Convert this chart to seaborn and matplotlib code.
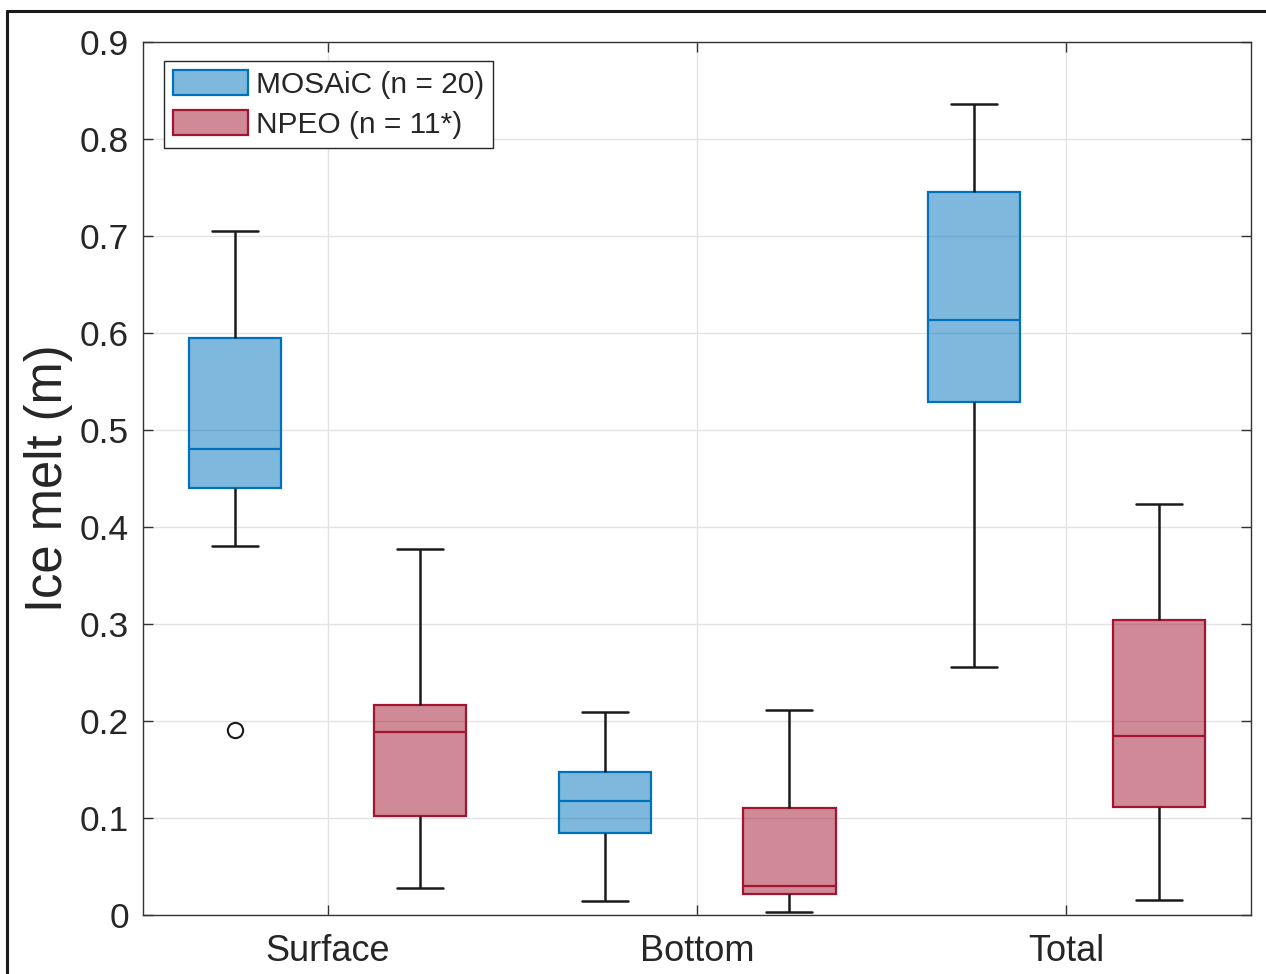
import numpy as np
import pandas as pd
import matplotlib
matplotlib.use('Agg')
import matplotlib.pyplot as plt
from matplotlib.patches import Patch
from matplotlib.lines import Line2D
from matplotlib.ticker import FuncFormatter
import seaborn as sns

sns.set_theme(style='ticks')
plt.rcParams['font.family'] = ['Liberation Sans', 'DejaVu Sans']

categories = ['Surface', 'Bottom', 'Total']
groups = ['MOSAiC', 'NPEO']
legend_labels = ['MOSAiC (n = 20)', 'NPEO (n = 11*)']

# values (whisker ends, quartiles, median; outlier for surface MOSAiC)
mosaic_surface = [0.191, 0.38, 0.44, 0.44, 0.48, 0.595, 0.595, 0.705, 0.705]
mosaic_bottom = [0.014, 0.085, 0.118, 0.147, 0.209]
mosaic_total = [0.256, 0.529, 0.613, 0.745, 0.836]
npeo_surface = [0.028, 0.102, 0.189, 0.216, 0.377]
npeo_bottom = [0.003, 0.022, 0.030, 0.110, 0.211]
npeo_total = [0.015, 0.111, 0.185, 0.304, 0.424]

yticks = [0, 0.1, 0.2, 0.3, 0.4, 0.5, 0.6, 0.7, 0.8, 0.9]

series = {'MOSAiC': [mosaic_surface, mosaic_bottom, mosaic_total],
          'NPEO': [npeo_surface, npeo_bottom, npeo_total]}
rows = []
for grp in groups:
    for cat, vals in zip(categories, series[grp]):
        for v in vals:
            rows.append((cat, grp, v))
df = pd.DataFrame(rows, columns=['Layer', 'Campaign', 'Melt'])

edge = {'MOSAiC': '#0072BD', 'NPEO': '#A2142F'}
W, H = 1266, 974

fig = plt.figure(figsize=(W / 100, H / 100), dpi=100)
ax = fig.add_axes([143 / W, 1 - 915 / H, 1108 / W, 873 / H])

for grp in groups:
    sns.boxplot(data=df[df['Campaign'] == grp], x='Layer', y='Melt', hue='Campaign',
                order=categories, hue_order=groups, palette=edge, saturation=1,
                linecolor=edge[grp], linewidth=1.6, width=1.0, gap=0.5, dodge=True,
                whiskerprops=dict(color='#1a1a1a', linewidth=1.8),
                capprops=dict(color='#1a1a1a', linewidth=1.8),
                flierprops=dict(marker='o', markerfacecolor='none',
                                markeredgecolor='k', markeredgewidth=1.5),
                fliersize=11, legend=False, ax=ax)

for p in ax.patches:
    fc = p.get_facecolor()
    p.set_facecolor((fc[0], fc[1], fc[2], 0.5))

ax.set_xlim(-0.5, 2.5)
ax.set_ylim(0, 0.9)
ax.set_yticks(yticks)
ax.yaxis.set_major_formatter(FuncFormatter(lambda v, _: f'{v:g}'))
ax.set_axisbelow(True)
ax.grid(True, color='#e3e3e3', linewidth=1)
ax.tick_params(direction='in', length=7, width=1, top=True, right=True,
               color='#333333', labelcolor='#262626', labelsize=25.5, pad=10)
ax.tick_params(axis='x', labelsize=26, pad=14)
for s in ax.spines.values():
    s.set_color('#333333')
    s.set_linewidth(1)
ax.set_xlabel('')
ax.set_ylabel('Ice melt (m)', fontsize=36.5, labelpad=5)

handles = [Patch(facecolor=matplotlib.colors.to_rgba(edge[g], 0.5), edgecolor=edge[g],
                 linewidth=1.6) for g in groups]
leg = ax.legend(handles, legend_labels, loc='upper left', bbox_to_anchor=(0.019, 0.978),
                borderaxespad=0, fontsize=21.5, frameon=True, fancybox=False,
                framealpha=1, edgecolor='#262626', handlelength=2.5, handleheight=0.9,
                handletextpad=0.27, labelspacing=0.38, borderpad=0.3)
leg.get_frame().set_linewidth(1)

# outer frame of the exported figure
fig.add_artist(Line2D([7 / W, 7 / W], [0, 1 - 10.5 / H], color='k', linewidth=2.2,
                      transform=fig.transFigure))
fig.add_artist(Line2D([7 / W, 1], [1 - 10.5 / H, 1 - 10.5 / H], color='k', linewidth=2.2,
                      transform=fig.transFigure))

fig.savefig('out.png', dpi=100)
plt.close(fig)
